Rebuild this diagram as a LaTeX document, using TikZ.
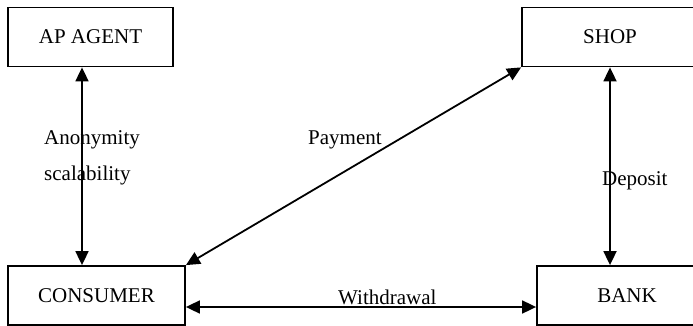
\documentclass[tikz,border=0pt]{standalone}
\usepackage{fontspec}
\setmainfont{Liberation Serif}
\usetikzlibrary{arrows.meta}

\begin{document}
\begin{tikzpicture}[
  x=1pt,
  y=-1pt,
  line join=miter,
  party/.style={draw=black,line width=1.8pt,minimum height=59pt,inner sep=0pt,
    font=\fontsize{21}{24}\selectfont},
  link/.style={draw=black,line width=1.8pt,{Triangle[length=14pt,width=13pt]}-{Triangle[length=14pt,width=13pt]}},
  tag/.style={inner sep=0pt,anchor=base west,font=\fontsize{21}{24}\selectfont}
]
  % Page frame of the original figure.
  \useasboundingbox (0,0) rectangle (693,326);
  \clip (0,0) rectangle (693,326);

  % The four parties; the right-hand boxes run past the page edge.
  \node[party,minimum width=165pt] (apagent) at (90.5,37) {AP AGENT};
  \node[party,minimum width=176pt] (shop) at (610,37) {SHOP};
  \node[party,minimum width=177pt] (consumer) at (96.5,295.5) {CONSUMER};
  \node[party,minimum width=180pt] (bank) at (627,295.5) {BANK};

  % Two-way links between the parties.
  \draw[link] ([xshift=-8.5pt]apagent.south) -- ([xshift=-8.5pt]apagent.south |- consumer.north);
  \draw[link] (consumer.north east) -- (shop.south west);
  \draw[link] (shop.south) -- (shop.south |- bank.north);
  \draw[link] ([yshift=-11.5pt]consumer.east) -- ([yshift=-11.5pt]consumer.east -| bank.west);

  % Link labels.
  \node[tag] (anon) at (44,145) {Anonymity};
  \node[tag] (scal) at (44,180) {scalability};
  \node[tag] (pay) at (308,145) {Payment};
  \node[tag] (dep) at (602,185) {Deposit};
  \node[tag] (wdr) at (338,304) {Withdrawal};
\end{tikzpicture}
\end{document}
